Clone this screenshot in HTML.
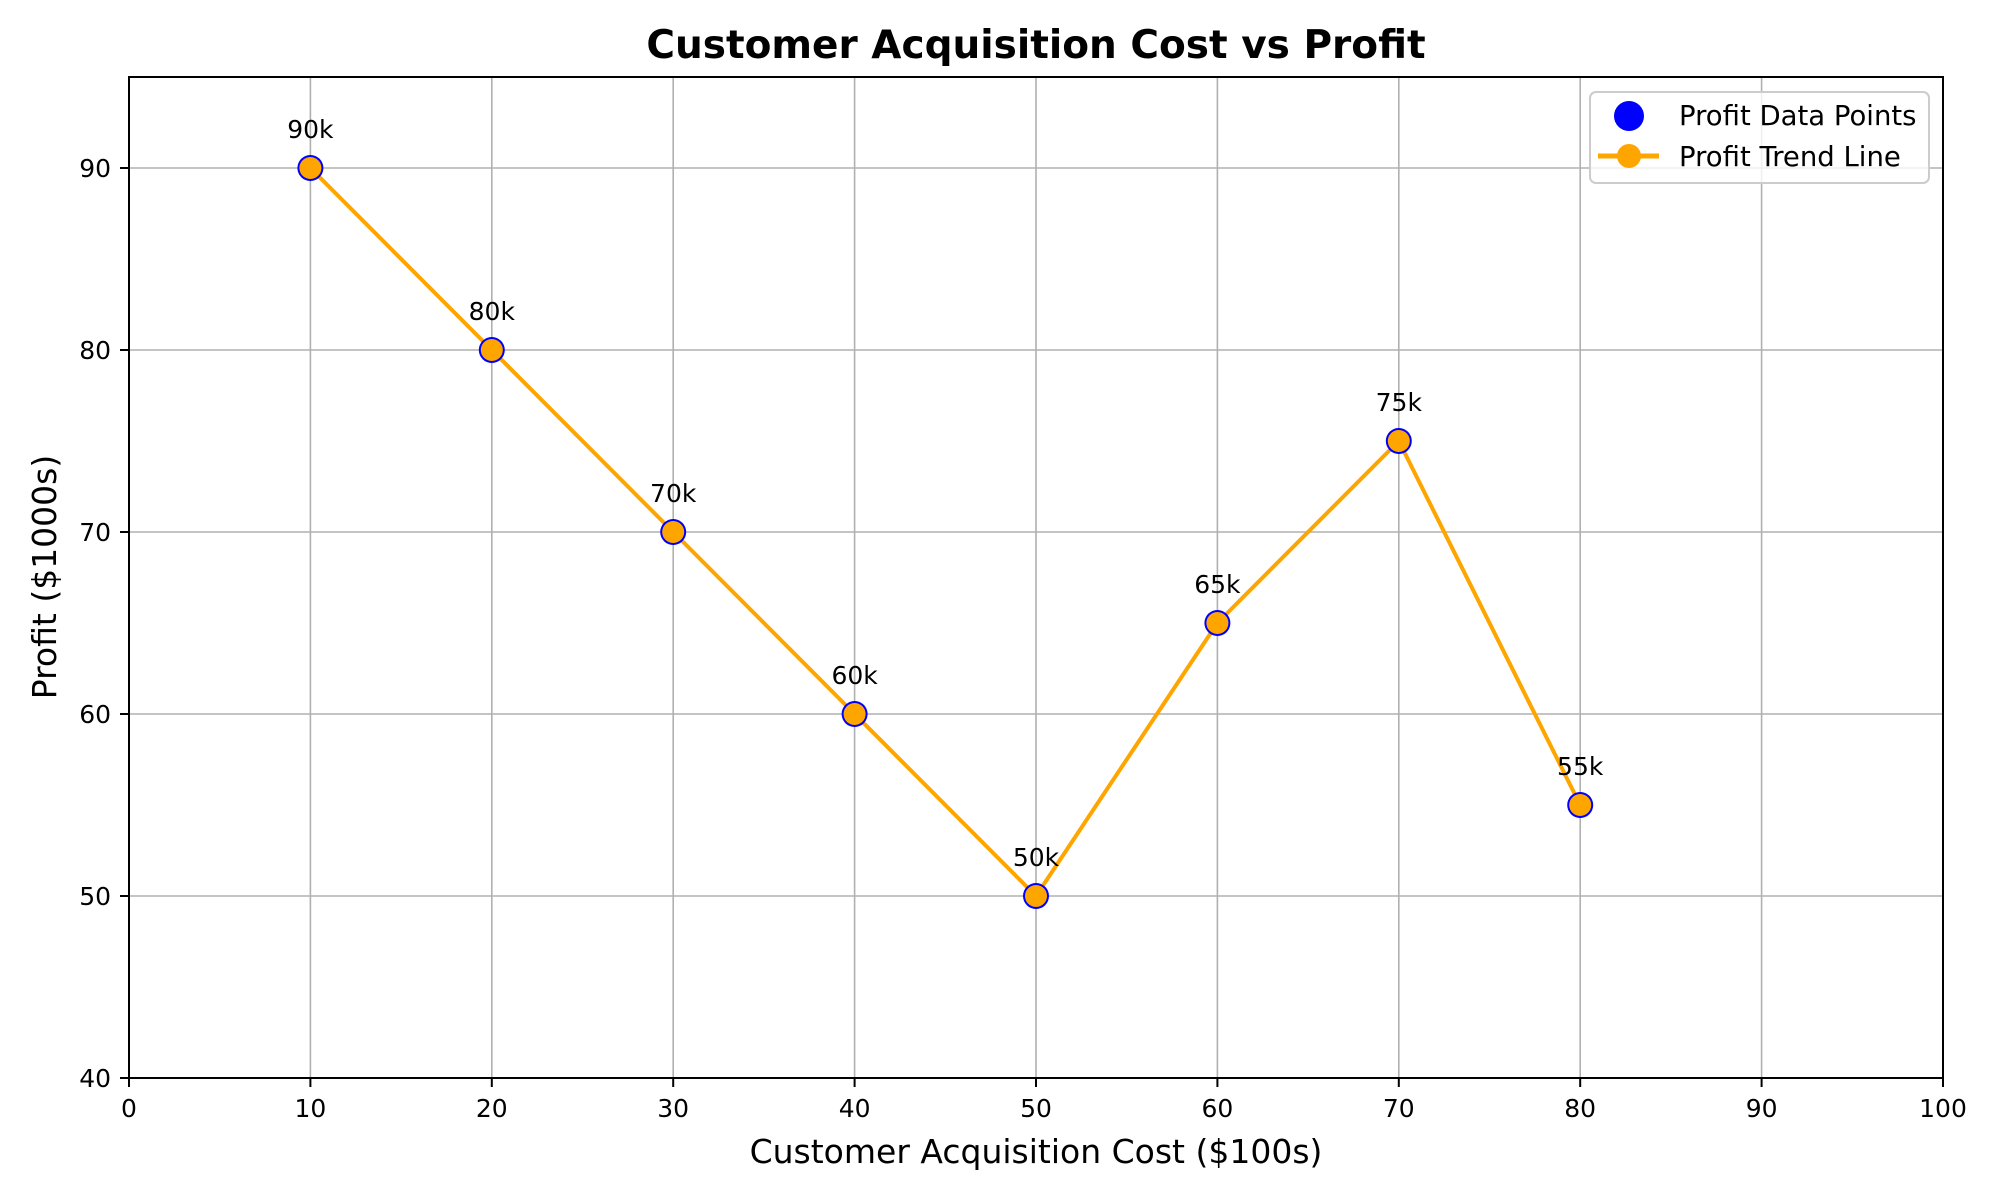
<!DOCTYPE html>
<html><head><meta charset="utf-8"><style>
html,body{margin:0;padding:0;background:#fff;}
svg{display:block;font-family:"DejaVu Sans","Liberation Sans",sans-serif;}
</style></head><body>
<svg id="chart" width="2000" height="1200" viewBox="0 0 2000 1200">
<rect width="2000" height="1200" fill="#fff"/>
<g id="grid"></g>
<g id="series"></g>
<rect x="129" y="77" width="1814" height="1001" fill="none" stroke="#000" stroke-width="2"/>
<g id="ticks"></g>
<text x="1036" y="58" text-anchor="middle" font-size="39" font-weight="bold">Customer Acquisition Cost vs Profit</text>
<text x="1036" y="1163" text-anchor="middle" font-size="33">Customer Acquisition Cost ($100s)</text>
<text transform="translate(56,577) rotate(-90)" text-anchor="middle" font-size="33">Profit ($1000s)</text>
<g>
<rect x="1590" y="92" width="339" height="91" rx="6" fill="#fff" fill-opacity="0.8" stroke="#ccc" stroke-width="2"/>
<circle cx="1629" cy="116" r="15" fill="#0000ff"/>
<text x="1679" y="125" font-size="27.5">Profit Data Points</text>
<line x1="1598" y1="156" x2="1659" y2="156" stroke="#ffa500" stroke-width="5"/>
<circle cx="1629" cy="156" r="12" fill="#ffa500"/>
<text x="1679" y="166" font-size="27.5">Profit Trend Line</text>
</g>
</svg>
<script>
const costs=[10,20,30,40,50,60,70,80];
const profits=[90,80,70,60,50,65,75,55];
const pointLabels=["90k","80k","70k","60k","50k","65k","75k","55k"];
const xTicks=[0,10,20,30,40,50,60,70,80,90,100];
const yTicks=[40,50,60,70,80,90];
const NS="http://www.w3.org/2000/svg";
const L=129,R=1943,T=77,B=1078,XMIN=0,XMAX=100,YMIN=40,YMAX=95;
const xs=v=>L+(v-XMIN)/(XMAX-XMIN)*(R-L);
const ys=v=>B-(v-YMIN)/(YMAX-YMIN)*(B-T);
function mk(tag,attrs,parent){const e=document.createElementNS(NS,tag);for(const k in attrs)e.setAttribute(k,attrs[k]);parent.appendChild(e);return e;}
const grid=document.getElementById('grid'),ticks=document.getElementById('ticks'),series=document.getElementById('series');
xTicks.forEach(t=>{
 const g=mk('line',{x1:xs(t),x2:xs(t),y1:T,y2:B,stroke:'#b0b0b0','stroke-width':1.6},grid);
 
 
 const tk=mk('line',{x1:xs(t),x2:xs(t),y1:B,y2:B+9,stroke:'#000','stroke-width':2},ticks);
 
 
 const tx=mk('text',{x:xs(t),y:B+39,'text-anchor':'middle','font-size':25},ticks);
 tx.textContent=t;
 
 
});
yTicks.forEach(t=>{
 const g=mk('line',{x1:L,x2:R,y1:ys(t),y2:ys(t),stroke:'#b0b0b0','stroke-width':1.6},grid);
 
 
 const tk=mk('line',{x1:L-9,x2:L,y1:ys(t),y2:ys(t),stroke:'#000','stroke-width':2},ticks);
 
 
 const tx=mk('text',{x:L-18,y:ys(t)+9,'text-anchor':'end','font-size':25},ticks);
 tx.textContent=t;
 
 
});
const pts=costs.map((c,i)=>xs(c)+','+ys(profits[i])).join(' ');
const line=mk('polyline',{points:pts,fill:'none',stroke:'#ffa500','stroke-width':4,'stroke-linejoin':'round'},series);


costs.forEach((c,i)=>{
 const o=mk('circle',{cx:xs(c),cy:ys(profits[i]),r:13,fill:'#0000ff'},series);
 
 
 const m=mk('circle',{cx:xs(c),cy:ys(profits[i]),r:11,fill:'#ffa500'},series);
 
 
 const t=mk('text',{x:xs(c),y:ys(profits[i])-30,'text-anchor':'middle','font-size':25},series);
 t.textContent=pointLabels[i];
 
 
});
</script>
</body></html>
